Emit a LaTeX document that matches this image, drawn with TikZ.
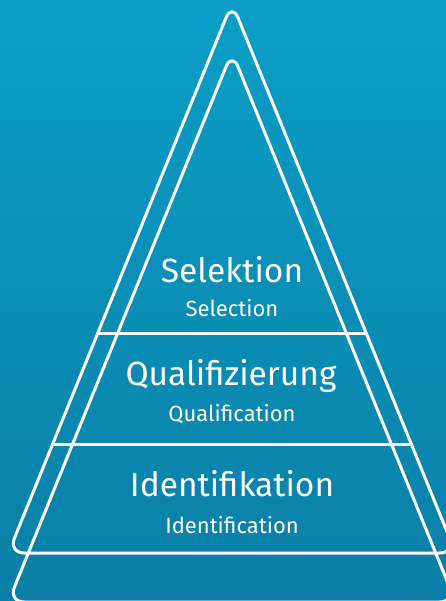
\documentclass[tikz,border=0pt]{standalone}
\usepackage{fontspec}
\setmainfont{Fira Sans}
\usetikzlibrary{calc}
\definecolor{bgtop}{HTML}{0A9EC6}
\definecolor{bgbot}{HTML}{0A7EA6}
\begin{document}
\begin{tikzpicture}[x=1pt,y=-1pt,
  edge/.style={white,line width=3pt,line join=round},
  big/.style={white,font=\fontsize{33.5}{40}\selectfont,anchor=base,inner sep=0pt},
  small/.style={white,font=\fontsize{22}{26}\selectfont,anchor=base,inner sep=0pt}]
\useasboundingbox (0,0) rectangle (446,601);
\shade[top color=bgtop,bottom color=bgbot] (0,0) rectangle (446,601);
\clip (0,0) rectangle (446,601);
\coordinate (O) at (232,3);
\coordinate (OL) at (8.4,553);
\coordinate (OR) at (455.6,553);
\coordinate (I) at (232,52);
\coordinate (IL) at (8.4,602);
\coordinate (IR) at (455.6,602);
\coordinate (OB) at ($(OL)!0.5!(OR)$);
\coordinate (IB) at ($(IL)!0.5!(IR)$);
\coordinate (D1L) at ($(O)!0.6!(OL)$);
\coordinate (D1R) at ($(O)!0.6!(OR)$);
\coordinate (D2L) at ($(O)!0.8036!(OL)$);
\coordinate (D2R) at ($(O)!0.8036!(OR)$);
\draw[edge,rounded corners=16pt] (OB) -- (OR) -- (O) -- (OL) -- cycle;
\draw[edge,rounded corners=16pt] (IB) -- (IR) -- (I) -- (IL) -- cycle;
\draw[edge] (D1L) -- (D1R);
\draw[edge] (D2L) -- (D2R);
\node[big] (t1) at (232,282) {Selektion};
\node[small] (s1) at (232,316) {Selection};
\node[big] (t2) at (231,385) {Qualifizierung};
\node[small] (s2) at (232,421) {Qualification};
\node[big] (t3) at (232,496) {Identifikation};
\node[small] (s3) at (232,533) {Identification};
\end{tikzpicture}
\end{document}
